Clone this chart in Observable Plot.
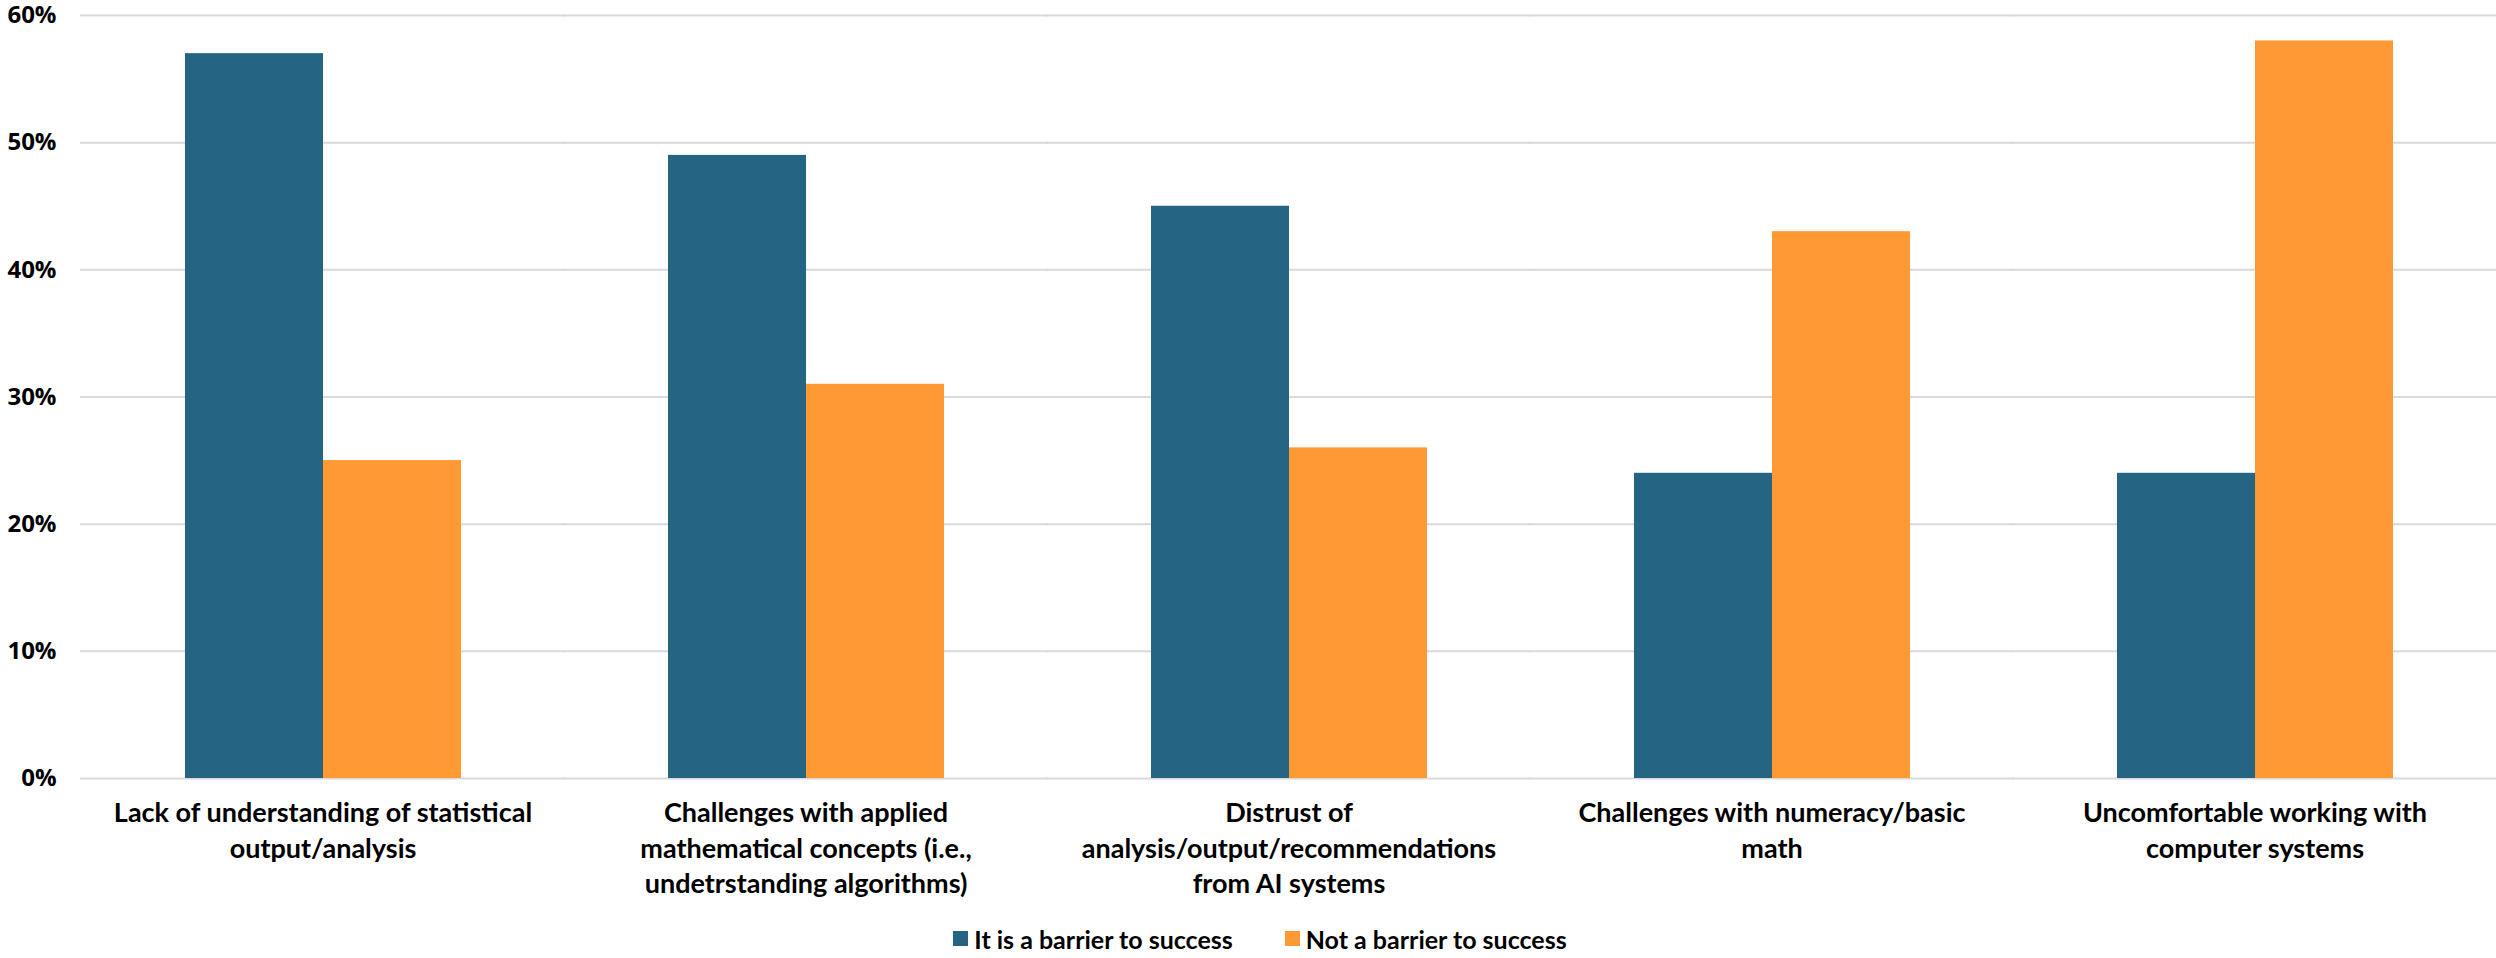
<!DOCTYPE html>
<html>
<head>
<meta charset="utf-8">
<script src="https://cdn.jsdelivr.net/npm/d3@7"></script>
<script src="https://cdn.jsdelivr.net/npm/@observablehq/plot@0.6"></script>
<style>
  html, body { margin: 0; padding: 0; background: #fff; }
  #chart svg { display: block; }
  #legend { display: flex; justify-content: center; align-items: center; height: 43px; font-family: Lato, sans-serif; font-weight: bold; font-size: 25px; color: #000; gap: 52px; padding-left: 24px; padding-top: 4px; box-sizing: border-box; }
  #legend .item { display: flex; align-items: center; gap: 6px; }
  #legend .sw { width: 15px; height: 15px; display: inline-block; }
</style>
</head>
<body>
<div id="chart"></div>
<div id="legend"></div>
<script>
const categories = [
  "Lack of understanding of statistical output/analysis",
  "Challenges with applied mathematical concepts (i.e., undetrstanding algorithms)",
  "Distrust of analysis/output/recommendations from AI systems",
  "Challenges with numeracy/basic math",
  "Uncomfortable working with computer systems"
];
const categoryLabels = [
  "Lack of understanding of statistical\noutput/analysis",
  "Challenges with applied\nmathematical concepts (i.e.,\nundetrstanding algorithms)",
  "Distrust of\nanalysis/output/recommendations\nfrom AI systems",
  "Challenges with numeracy/basic\nmath",
  "Uncomfortable working with\ncomputer systems"
];
const seriesNames = ["It is a barrier to success", "Not a barrier to success"];
const barrierValues = [57, 49, 45, 24, 24];
const notBarrierValues = [25, 31, 26, 43, 58];
const seriesColors = ["#266483", "#FF9933"];
const yTicks = [0, 10, 20, 30, 40, 50, 60];

const data = [];
categories.forEach((c, i) => {
  data.push({category: c, series: seriesNames[0], value: barrierValues[i]});
  data.push({category: c, series: seriesNames[1], value: notBarrierValues[i]});
});
const labelOf = new Map(categories.map((c, i) => [c, categoryLabels[i]]));

const chart = Plot.plot({
  width: 2496,
  height: 915,
  marginTop: 15,
  marginBottom: 137,
  marginLeft: 80,
  marginRight: 0,
  style: {fontFamily: "Lato, sans-serif", background: "#fff", overflow: "visible"},
  fx: {domain: categories, paddingInner: 0.427, paddingOuter: 0.2135, label: null},
  x: {domain: seriesNames, padding: 0, axis: null},
  y: {domain: [0, 60], label: null, axis: null},
  color: {domain: seriesNames, range: seriesColors},
  marks: [
    Plot.ruleY(yTicks, {stroke: "#d9d9d9", strokeOpacity: 1, strokeWidth: 2, insetLeft: -104, insetRight: -104}),
    Plot.barY(data, {fx: "category", x: "series", y: "value", fill: "series"}),
    Plot.axisY(yTicks, {
      tickSize: 0, tickPadding: 128, tickFormat: d => d + "%",
      fontSize: 24, fontWeight: "bold", fontFamily: "'Open Sans', sans-serif", fill: "#000",
      facetAnchor: "left", label: null
    }),
    Plot.axisFx({
      anchor: "bottom", tickSize: 0, tickPadding: 19, tickFormat: d => labelOf.get(d),
      fontSize: 27, fontWeight: "bold", fill: "#000", lineHeight: 1.3, label: null
    })
  ]
});
document.getElementById("chart").appendChild(chart);

const legend = document.getElementById("legend");
seriesNames.forEach((s, i) => {
  const item = document.createElement("div");
  item.className = "item";
  const sw = document.createElement("span");
  sw.className = "sw";
  sw.style.background = seriesColors[i];
  const t = document.createElement("span");
  t.textContent = s;
  item.appendChild(sw);
  item.appendChild(t);
  legend.appendChild(item);
});
</script>
</body>
</html>
